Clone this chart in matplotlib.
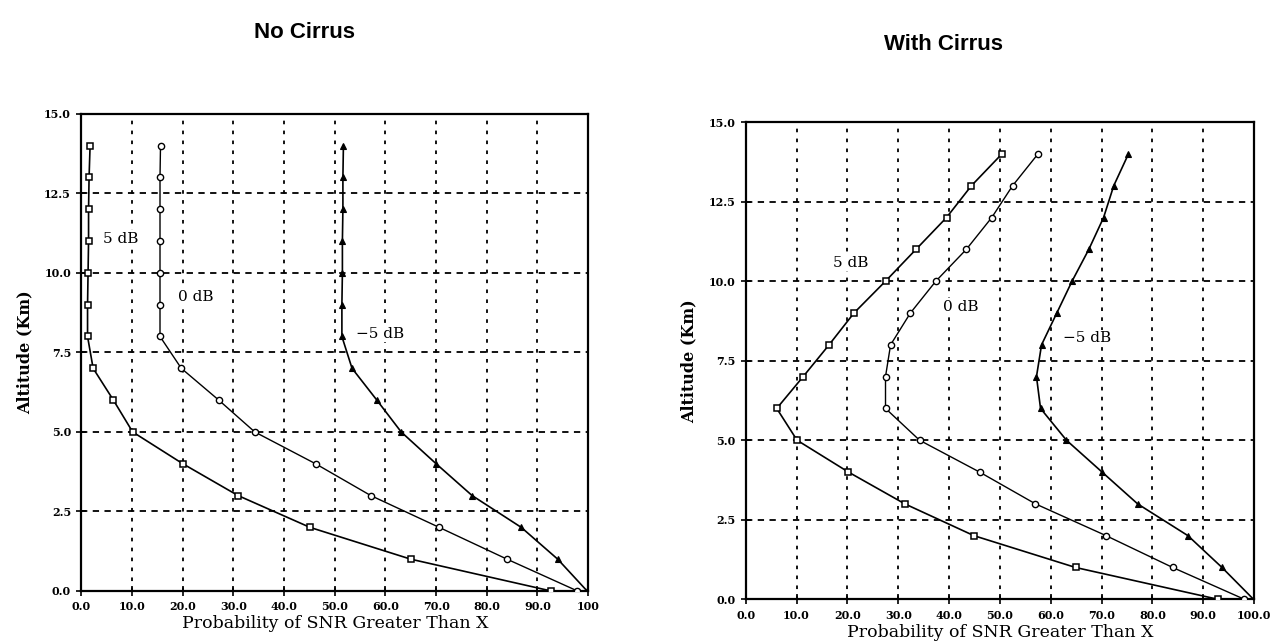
import matplotlib
matplotlib.use("Agg")
import matplotlib.pyplot as plt

# ---- data ----
altitude = [0, 1, 2, 3, 4, 5, 6, 7, 8, 9, 10, 11, 12, 13, 14]

# No Cirrus
nc_5db = [92.7, 65.0, 45.1, 30.9, 20.0, 10.1, 6.3, 2.3, 1.2, 1.2, 1.3, 1.4, 1.4, 1.5, 1.7]
nc_0db = [97.9, 84.0, 70.6, 57.1, 46.2, 34.2, 27.1, 19.7, 15.5, 15.5, 15.5, 15.5, 15.5, 15.5, 15.6]
nc_m5db = [99.8, 94.0, 86.8, 77.1, 70.0, 63.1, 58.3, 53.4, 51.4, 51.4, 51.5, 51.5, 51.6, 51.6, 51.7]

# With Cirrus
wc_5db = [92.9, 64.9, 44.9, 31.3, 20.2, 10.1, 6.1, 11.3, 16.4, 21.3, 27.5, 33.5, 39.5, 44.4, 50.4]
wc_0db = [98.1, 84.0, 70.9, 57.0, 46.0, 34.2, 27.5, 27.5, 28.5, 32.4, 37.4, 43.4, 48.4, 52.5, 57.5]
wc_m5db = [99.9, 93.7, 87.0, 77.1, 70.1, 63.1, 58.0, 57.2, 58.2, 61.2, 64.2, 67.5, 70.4, 72.4, 75.3]

x_ticks = [0, 10, 20, 30, 40, 50, 60, 70, 80, 90, 100]
left_xlabels = ["0.0", "10.0", "20.0", "30.0", "40.0", "50.0", "60.0", "70.0", "80.0", "90.0", "100"]
right_xlabels = ["0.0", "10.0", "20.0", "30.0", "40.0", "50.0", "60.0", "70.0", "80.0", "90.0", "100.0"]
y_ticks = [0, 2.5, 5, 7.5, 10, 12.5, 15]
y_labels = ["0.0", "2.5", "5.0", "7.5", "10.0", "12.5", "15.0"]

titles = ["No Cirrus", "With Cirrus"]
series_labels = ["5 dB", "0 dB", "\u22125 dB"]

fig = plt.figure(figsize=(12.73, 6.44), dpi=100)
fig.patch.set_facecolor("white")

ax1 = fig.add_axes([0.064, 0.0823, 0.398, 0.741])
ax2 = fig.add_axes([0.5858, 0.0694, 0.3993, 0.741])

serif = "DejaVu Serif"


def style(ax, xlabels):
    ax.set_xlim(0, 100)
    ax.set_ylim(0, 15)
    ax.set_xticks(x_ticks)
    ax.set_xticklabels(xlabels, fontsize=8, fontweight="bold", family=serif)
    ax.set_yticks(y_ticks)
    ax.set_yticklabels(y_labels, fontsize=8, fontweight="bold", family=serif)
    ax.tick_params(direction="inout", length=7, width=1.2, pad=4)
    for s in ax.spines.values():
        s.set_linewidth(1.6)
        s.set_color("black")
    for xv in x_ticks[1:-1]:
        ax.axvline(xv, color="black", lw=1.3, ls=(0, (2, 3.5)), zorder=1)
    for yv in y_ticks[1:-1]:
        ax.axhline(yv, color="black", lw=1.3, ls=(0, (3.5, 3)), zorder=1)
    ax.set_ylabel("Altitude (Km)", fontsize=11.5, fontweight="bold", family=serif, labelpad=8)
    ax.set_xlabel("Probability of SNR Greater Than X", fontsize=12.5, family=serif, labelpad=2)


def draw(ax, s5, s0, sm5):
    ax.plot(s5, altitude, color="black", lw=1.2, marker="s", ms=5, mfc="white", mec="black", mew=1.1, zorder=3)
    ax.plot(s0, altitude, color="black", lw=1.0, marker="o", ms=4.5, mfc="white", mec="black", mew=1.0, zorder=3)
    ax.plot(sm5, altitude, color="black", lw=1.2, marker="^", ms=4, mfc="black", mec="black", mew=0.8, zorder=3)


def label(ax, x, y, s):
    ax.text(x, y, s, fontsize=11, family=serif, va="center", ha="left", zorder=4,
            bbox=dict(facecolor="white", edgecolor="none", pad=1.0))


style(ax1, left_xlabels)
style(ax2, right_xlabels)
draw(ax1, nc_5db, nc_0db, nc_m5db)
draw(ax2, wc_5db, wc_0db, wc_m5db)

# curve labels
label(ax1, 4.2, 11.08, series_labels[0])
label(ax1, 19.1, 9.25, series_labels[1])
label(ax1, 54.2, 8.09, series_labels[2])
label(ax2, 17.2, 10.57, series_labels[0])
label(ax2, 38.8, 9.2, series_labels[1])
label(ax2, 62.4, 8.2, series_labels[2])

fig.text(304 / 1273, 1 - 32 / 644, titles[0], fontsize=16, fontweight="bold",
         family="Liberation Sans", ha="center", va="center")
fig.text(943 / 1273, 1 - 44 / 644, titles[1], fontsize=16, fontweight="bold",
         family="Liberation Sans", ha="center", va="center")

fig.savefig("out.png", dpi=100, facecolor="white")
